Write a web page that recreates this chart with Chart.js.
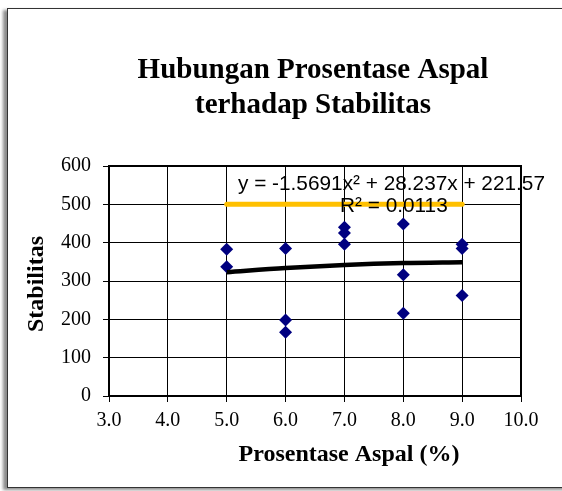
<!DOCTYPE html>
<html>
<head>
<meta charset="utf-8">
<script src="https://cdn.jsdelivr.net/npm/chart.js@4/dist/chart.umd.min.js"></script>
<style>
html,body{margin:0;padding:0;background:#fff;overflow:hidden;}
#wrap{position:relative;width:562px;height:491px;}
#frame{position:absolute;left:7px;top:8px;width:600px;height:478px;border:1px solid #333;box-shadow:-4px 2px 3px rgba(0,0,0,0.45);background:#fff;}
canvas{position:absolute;left:0;top:0;}
</style>
</head>
<body>
<div id="wrap">
<div id="frame"></div>
<canvas id="c" width="562" height="491"></canvas>
</div>
<script>
// Data
const aspal      = [5, 5, 6, 6, 6, 7, 7, 7, 8, 8, 8, 9, 9, 9];
const stabilitas = [383, 337, 385, 198, 166, 440, 425, 396, 449, 316, 216, 396, 385, 262];
const trendX = [5, 6, 7, 8, 9];
const trendY = [323, 334, 342, 347, 349];
const refX = [5, 9];
const refY = [500, 500];
const xTicks = [3, 4, 5, 6, 7, 8, 9, 10];
const yTicks = [0, 100, 200, 300, 400, 500, 600];
const titleLines = ['Hubungan Prosentase Aspal', 'terhadap Stabilitas'];
const xTitle = 'Prosentase Aspal (%)';
const yTitle = 'Stabilitas';
const eqText = 'y = -1.5691x\u00B2 + 28.237x + 221.57';
const r2Text = 'R\u00B2 = 0.0113';

const pts = (xs, ys) => xs.map((x, i) => ({x: x, y: ys[i]}));
const serif = '"Liberation Serif", "Times New Roman", serif';
const sans = '"Liberation Sans", Arial, sans-serif';

const textPlugin = {
  id: 'texts',
  afterDraw(chart) {
    const ctx = chart.ctx;
    const a = chart.chartArea;
    ctx.save();
    // plot frame
    ctx.strokeStyle = '#000';
    ctx.lineWidth = 2;
    ctx.strokeRect(a.left, a.top, a.right - a.left, a.bottom - a.top);
    ctx.fillStyle = '#000';
    // main title
    ctx.font = 'bold 29px ' + serif;
    ctx.textAlign = 'center';
    ctx.textBaseline = 'alphabetic';
    ctx.fillText(titleLines[0], 313, 78);
    ctx.fillText(titleLines[1], 313, 113);
    // x title
    ctx.font = 'bold 24px ' + serif;
    ctx.fillText(xTitle, 349, 461);
    // y title
    ctx.save();
    ctx.translate(43, 284);
    ctx.rotate(-Math.PI / 2);
    ctx.fillText(yTitle, 0, 0);
    ctx.restore();
    // equation
    ctx.font = '20.8px ' + sans;
    ctx.textAlign = 'left';
    ctx.fillText(eqText, 238, 190);
    ctx.fillText(r2Text, 340, 212);
    ctx.restore();
  }
};

new Chart(document.getElementById('c'), {
  type: 'scatter',
  data: {
    datasets: [
      {
        type: 'line',
        data: pts(trendX, trendY),
        borderColor: '#000',
        borderWidth: 4.5,
        pointRadius: 0,
        cubicInterpolationMode: 'monotone',
        fill: false,
        order: 1
      },
      {
        type: 'line',
        data: pts(refX, refY),
        borderColor: '#FFC000',
        borderWidth: 5,
        borderCapStyle: 'round',
        pointRadius: 0,
        fill: false,
        order: 2
      },
      {
        data: pts(aspal, stabilitas),
        pointStyle: 'rectRot',
        pointRadius: 6.5,
        backgroundColor: '#000080',
        borderColor: '#000080',
        borderWidth: 0,
        order: 3
      }
    ]
  },
  options: {
    responsive: false,
    animation: false,
    devicePixelRatio: 1,
    layout: {padding: {left: 0, top: 166, right: 41, bottom: 0}},
    plugins: {legend: {display: false}, tooltip: {enabled: false}, title: {display: false}},
    scales: {
      x: {
        type: 'linear',
        min: 3, max: 10,
        afterBuildTicks: s => { s.ticks = xTicks.map(v => ({value: v})); },
        afterFit: s => { s.height = 95; },
        ticks: {
          callback: v => Number(v).toFixed(1),
          color: '#000',
          font: {family: serif, size: 20},
          padding: 7,
          maxRotation: 0
        },
        grid: {color: '#000', lineWidth: 1, tickLength: 6, tickColor: '#000'},
        border: {color: '#000', width: 2}
      },
      y: {
        min: 0, max: 600,
        afterBuildTicks: s => { s.ticks = yTicks.map(v => ({value: v})); },
        afterFit: s => { s.width = 109; },
        ticks: {
          color: '#000',
          font: {family: serif, size: 20},
          padding: 12
        },
        grid: {color: '#000', lineWidth: 1, tickLength: 6, tickColor: '#000'},
        border: {color: '#000', width: 2}
      }
    }
  },
  plugins: [textPlugin]
});
</script>
</body>
</html>
